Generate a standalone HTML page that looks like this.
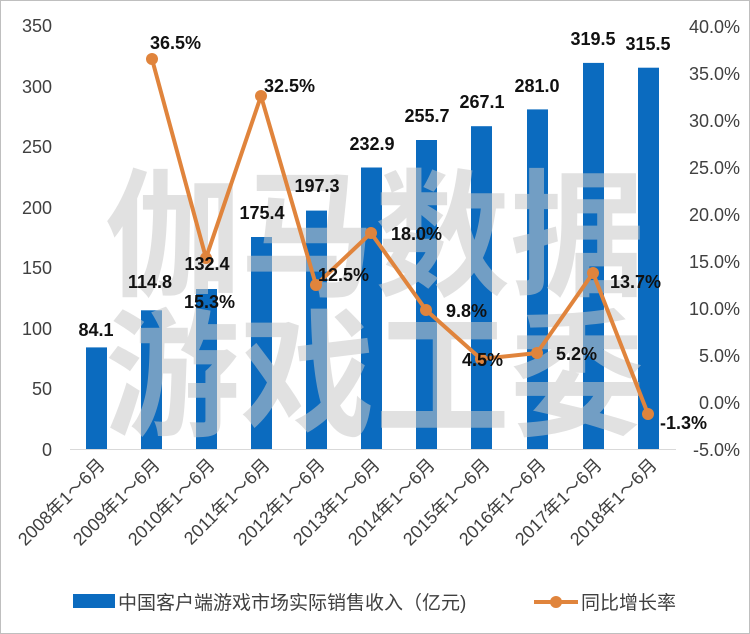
<!DOCTYPE html>
<html><head><meta charset="utf-8"><style>
html,body{margin:0;padding:0;background:#fff}
svg{display:block}
text{font-family:"Liberation Sans","Noto Sans CJK SC",sans-serif}
</style></head><body>
<svg width="750" height="634" viewBox="0 0 750 634">
<rect x="0.5" y="0.5" width="749" height="633" fill="#fff" stroke="#bfbfbf" stroke-width="1"/>
<line x1="70" y1="449.5" x2="676" y2="449.5" stroke="#d9d9d9" stroke-width="1"/>
<g font-size="18" fill="#404040" text-anchor="end">
<text x="52" y="456">0</text><text x="52" y="395">50</text><text x="52" y="335">100</text>
<text x="52" y="274">150</text><text x="52" y="214">200</text><text x="52" y="153">250</text>
<text x="52" y="93">300</text><text x="52" y="32">350</text>
</g>
<g font-size="18" fill="#404040" text-anchor="end">
<text x="740" y="456">-5.0%</text><text x="740" y="409">0.0%</text><text x="740" y="362">5.0%</text>
<text x="740" y="315">10.0%</text><text x="740" y="268">15.0%</text><text x="740" y="221">20.0%</text>
<text x="740" y="174">25.0%</text><text x="740" y="127">30.0%</text><text x="740" y="80">35.0%</text><text x="740" y="33">40.0%</text>
</g>
<g fill="#0b6bbf">
<rect x="86" y="347.4" width="21" height="101.6"/>
<rect x="141" y="310.3" width="21" height="138.7"/>
<rect x="196" y="289" width="21" height="160"/>
<rect x="251" y="237" width="21" height="212"/>
<rect x="306" y="210.6" width="21" height="238.4"/>
<rect x="361" y="167.5" width="21" height="281.5"/>
<rect x="416" y="140" width="21" height="309"/>
<rect x="471" y="126.2" width="21" height="322.8"/>
<rect x="527" y="109.4" width="21" height="339.6"/>
<rect x="583" y="62.9" width="21" height="386.1"/>
<rect x="638" y="67.7" width="21" height="381.3"/>
</g>
<g font-size="138" fill="#c8c8c8" fill-opacity="0.55" font-family="'Noto Sans CJK SC',sans-serif" font-weight="bold">
<text x="105" y="285" textLength="540" lengthAdjust="spacingAndGlyphs">伽马数据</text>
<text x="105" y="425" textLength="540" lengthAdjust="spacingAndGlyphs">游戏工委</text>
</g>
<polyline points="152,59 206,258 261,96 316,285 371,233 426,310 481,359 537,353 593,273 648,414" fill="none" stroke="#e0843c" stroke-width="4" stroke-linejoin="round"/>
<g fill="#e0843c">
<circle cx="152" cy="59" r="6"/><circle cx="206" cy="258" r="6"/><circle cx="261" cy="96" r="6"/>
<circle cx="316" cy="285" r="6"/><circle cx="371" cy="233" r="6"/><circle cx="426" cy="310" r="6"/>
<circle cx="481" cy="359" r="6"/><circle cx="537" cy="353" r="6"/><circle cx="593" cy="273" r="6"/><circle cx="648" cy="414" r="6"/>
</g>
<g font-size="18" font-weight="bold" fill="#111" text-anchor="middle">
<text x="96" y="336">84.1</text><text x="150" y="288">114.8</text><text x="207" y="270">132.4</text>
<text x="262" y="219">175.4</text><text x="317" y="192">197.3</text><text x="372" y="150">232.9</text>
<text x="427" y="122">255.7</text><text x="482" y="108">267.1</text><text x="537" y="92">281.0</text>
<text x="593" y="45">319.5</text><text x="648" y="50">315.5</text>
</g>
<g font-size="18" font-weight="bold" fill="#111">
<text x="150" y="49">36.5%</text><text x="184" y="308">15.3%</text><text x="264" y="92">32.5%</text>
<text x="318" y="281">12.5%</text><text x="391" y="240">18.0%</text><text x="446" y="317">9.8%</text>
<text x="462" y="366">4.5%</text><text x="556" y="360">5.2%</text><text x="610" y="288">13.7%</text><text x="660" y="429">-1.3%</text>
</g>
<g font-size="18" fill="#404040" text-anchor="end">
<text transform="translate(106,466) rotate(-45)">2008年1～6月</text>
<text transform="translate(161,466) rotate(-45)">2009年1～6月</text>
<text transform="translate(216,466) rotate(-45)">2010年1～6月</text>
<text transform="translate(271,466) rotate(-45)">2011年1～6月</text>
<text transform="translate(326,466) rotate(-45)">2012年1～6月</text>
<text transform="translate(381,466) rotate(-45)">2013年1～6月</text>
<text transform="translate(436,466) rotate(-45)">2014年1～6月</text>
<text transform="translate(491,466) rotate(-45)">2015年1～6月</text>
<text transform="translate(547,466) rotate(-45)">2016年1～6月</text>
<text transform="translate(603,466) rotate(-45)">2017年1～6月</text>
<text transform="translate(658,466) rotate(-45)">2018年1～6月</text>
</g>
<rect x="73" y="594" width="42" height="14" fill="#0b6bbf"/>
<text x="118" y="609" font-size="19" fill="#404040">中国客户端游戏市场实际销售收入（亿元)</text>
<line x1="534" y1="602" x2="578" y2="602" stroke="#e0843c" stroke-width="4"/>
<circle cx="556" cy="602" r="6" fill="#e0843c"/>
<text x="581" y="609" font-size="19" fill="#404040">同比增长率</text>
</svg>
</body></html>
